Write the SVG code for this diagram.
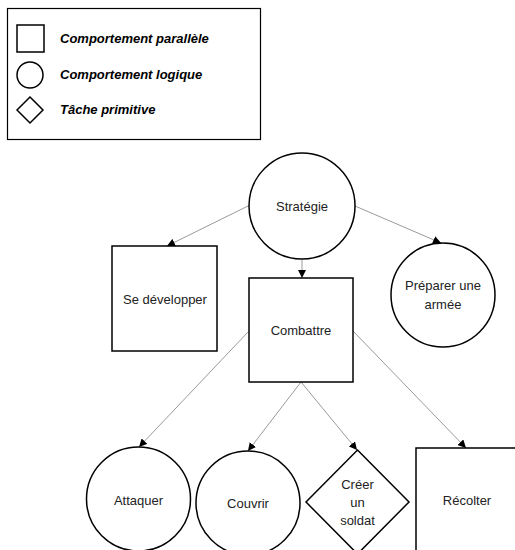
<svg xmlns="http://www.w3.org/2000/svg" width="515" height="550" viewBox="0 0 515 550">
<style>
.shape{fill:#fff;stroke:#000;stroke-width:1.5}
.lbl{font-family:"Liberation Sans",Arial,sans-serif;font-size:13px;fill:#222;text-anchor:middle;dominant-baseline:central}
.leg{font-family:"Liberation Sans",Arial,sans-serif;font-size:13px;font-weight:bold;font-style:italic;fill:#000;dominant-baseline:central}
.conn{stroke:#808080;stroke-width:0.8;fill:none;marker-end:url(#arr)}
</style>
<defs>
<marker id="arr" viewBox="0 0 10 10" refX="10" refY="5" markerWidth="8" markerHeight="8" markerUnits="userSpaceOnUse" orient="auto">
<path d="M0,0 L10,5 L0,10 z" fill="#000"/>
</marker>
</defs>
<g id="legend">
<rect x="7.5" y="8.5" width="253" height="131" fill="#fff" stroke="#000" stroke-width="1.2"/>
<rect class="shape" x="17" y="25" width="27" height="27" stroke-width="1.2"/>
<circle class="shape" cx="30" cy="75" r="13" stroke-width="1.2"/>
<polygon class="shape" points="30,97 43,110 30,123 17,110" stroke-width="1.2"/>
<text class="leg" x="60" y="38">Comportement parallèle</text>
<text class="leg" x="60" y="74">Comportement logique</text>
<text class="leg" x="60" y="109">Tâche primitive</text>
</g>
<g id="connectors">
<line class="conn" x1="302" y1="260" x2="302" y2="278"/>
<line class="conn" x1="250" y1="205" x2="167" y2="246"/>
<line class="conn" x1="355" y1="206" x2="441" y2="243"/>
<line class="conn" x1="249" y1="331" x2="139" y2="447"/>
<line class="conn" x1="301" y1="382" x2="248" y2="451"/>
<line class="conn" x1="301" y1="382" x2="357" y2="450"/>
<line class="conn" x1="353" y1="331" x2="466" y2="448"/>
</g>
<g id="strategie">
<circle class="shape" cx="302" cy="206" r="53"/>
<text class="lbl" x="302" y="206">Stratégie</text>
</g>
<g id="se-developper">
<rect class="shape" x="112" y="246" width="105" height="105"/>
<text class="lbl" x="165" y="299">Se développer</text>
</g>
<g id="combattre">
<rect class="shape" x="249" y="278" width="104" height="104"/>
<text class="lbl" x="301" y="330">Combattre</text>
</g>
<g id="preparer">
<circle class="shape" cx="443" cy="295" r="52"/>
<text class="lbl" x="443" y="285">Préparer une</text>
<text class="lbl" x="443" y="304">armée</text>
</g>
<g id="attaquer">
<circle class="shape" cx="138.5" cy="499" r="52"/>
<text class="lbl" x="138.5" y="500">Attaquer</text>
</g>
<g id="couvrir">
<circle class="shape" cx="248" cy="503" r="52"/>
<text class="lbl" x="248" y="503">Couvrir</text>
</g>
<g id="creer-soldat">
<polygon class="shape" points="357.5,450 409,502 357.5,554 306,502"/>
<text class="lbl" x="357.5" y="484">Créer</text>
<text class="lbl" x="357.5" y="502">un</text>
<text class="lbl" x="357.5" y="520">soldat</text>
</g>
<g id="recolter">
<rect class="shape" x="416" y="448" width="104" height="110"/>
<text class="lbl" x="467" y="500">Récolter</text>
</g>
</svg>
